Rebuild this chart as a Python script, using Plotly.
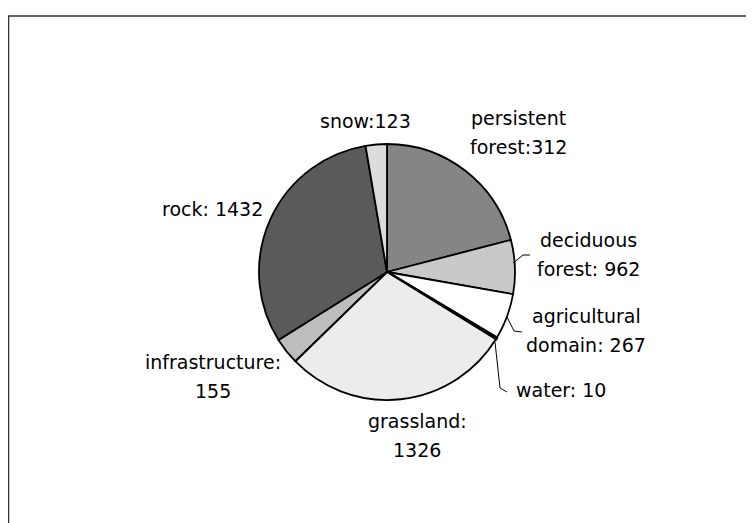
import plotly.graph_objects as go

W, H = 754, 523

# slices clockwise from 12 o'clock
slice_names = ['persistent forest', 'deciduous forest', 'agricultural domain', 'water',
               'grassland', 'infrastructure', 'rock', 'snow']
slice_values = [962, 312, 267, 10, 1326, 155, 1432, 123]
slice_colors = ['#858585', '#c9c9c9', '#ffffff', '#000000',
                '#ececec', '#bdbdbd', '#5a5a5a', '#dcdcdc']

# label texts as printed on the chart
label_texts = ['persistent<br>forest:312', 'deciduous<br>forest: 962', 'agricultural<br>domain: 267',
               'water: 10', 'grassland:<br>1326', 'infrastructure:<br>155', 'rock: 1432', 'snow:123']
label_pos = [(518, 132), (588, 254), (586, 330), (561, 390),
             (417, 435), (213, 376), (213, 209), (365, 121)]
LINE_GAP = 29

OFF = 8  # page body margin


def px(x):
    return (x - OFF) / W


def py(y):
    return 1 - (y - OFF) / H


cx, cy, r = 387, 272, 128

# the water slice is drawn as a thick black wedge line
outline_widths = [1.8, 1.8, 1.8, 3, 1.8, 1.8, 1.8, 1.8]

fig = go.Figure(go.Pie(
    labels=slice_names,
    values=slice_values,
    sort=False,
    direction='clockwise',
    rotation=0,
    textinfo='none',
    hoverinfo='label+value',
    marker=dict(colors=slice_colors, line=dict(color='#000000', width=outline_widths)),
    domain=dict(x=[px(cx - r), px(cx + r)], y=[py(cy + r), py(cy - r)]),
    showlegend=False,
))

for text, (x, y) in zip(label_texts, label_pos):
    lines = text.split('<br>')
    top = y - LINE_GAP * (len(lines) - 1) / 2
    for i, line in enumerate(lines):
        fig.add_annotation(x=px(x), y=py(top + i * LINE_GAP), xref='paper', yref='paper',
                           text=line, showarrow=False, xanchor='center', yanchor='middle',
                           font=dict(family='DejaVu Sans', size=19, color='#000000'))

# leader lines
leaders = [
    [(513, 263), (523, 255), (530, 255)],
    [(507, 317), (514, 331), (522, 332)],
    [(495, 342), (500, 388), (507, 392)],
]
for pts in leaders:
    path = 'M ' + ' L '.join(f'{px(x)} {py(y)}' for x, y in pts)
    fig.add_shape(type='path', xref='paper', yref='paper', path=path,
                  line=dict(color='#000000', width=1))

# chart frame (cut off at right and bottom)
fig.add_shape(type='rect', xref='paper', yref='paper',
              x0=px(8.5), x1=1.02, y0=-0.02, y1=py(16),
              line=dict(color='#333333', width=1.6))

fig.update_layout(width=W, height=H, margin=dict(l=0, r=0, t=0, b=0),
                  paper_bgcolor='white', plot_bgcolor='white')

fig.write_html("out.html")
